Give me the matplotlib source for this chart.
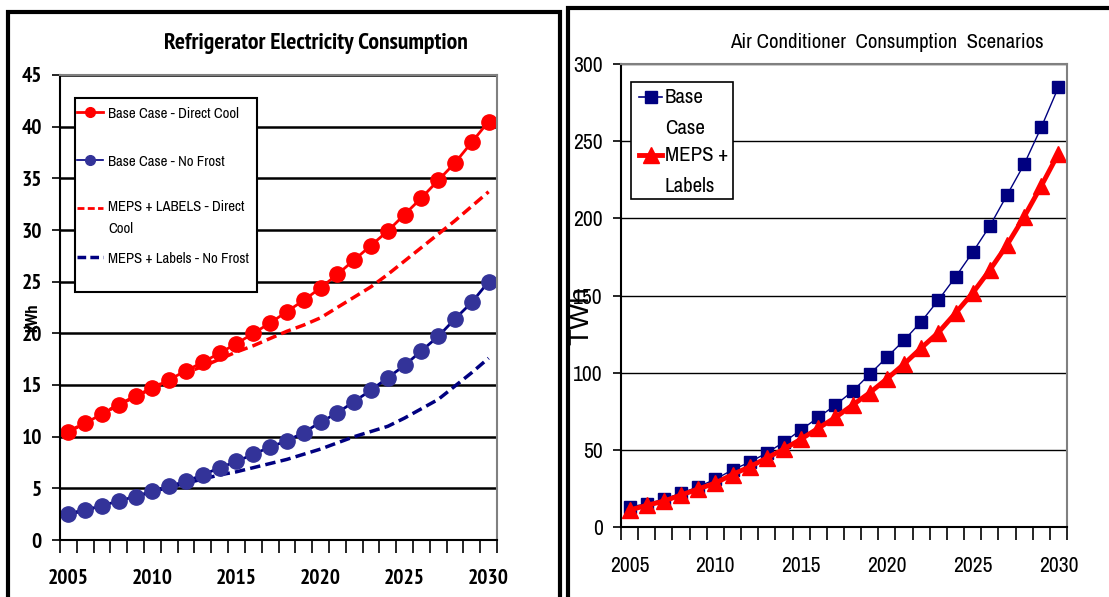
import numpy as np
import matplotlib.pyplot as plt
from matplotlib import font_manager
from matplotlib.lines import Line2D
from matplotlib.patches import Rectangle

years = list(range(2005, 2031))

# Refrigerator (kWh)
base_direct_cool = [10.5, 11.3, 12.2, 13.1, 13.9, 14.7, 15.5, 16.4, 17.2, 18.1,
                    19.0, 20.0, 21.0, 22.1, 23.2, 24.4, 25.7, 27.1, 28.5, 29.9,
                    31.5, 33.1, 34.8, 36.5, 38.5, 40.5]
base_no_frost = [2.5, 2.9, 3.3, 3.8, 4.2, 4.7, 5.2, 5.7, 6.3, 7.0,
                 7.6, 8.3, 9.0, 9.6, 10.4, 11.4, 12.3, 13.4, 14.5, 15.7,
                 16.9, 18.3, 19.7, 21.4, 23.0, 25.0]
meps_direct_cool = [10.5, 11.3, 12.2, 13.1, 13.9, 14.7, 15.5, 16.2, 16.8, 17.5,
                    18.2, 18.8, 19.5, 20.2, 20.8, 21.5, 22.5, 23.5, 24.5, 25.7,
                    27.0, 28.3, 29.6, 30.9, 32.3, 33.7]
meps_no_frost = [2.5, 2.9, 3.3, 3.8, 4.2, 4.7, 5.1, 5.5, 5.9, 6.3,
                 6.6, 7.0, 7.4, 7.8, 8.3, 8.8, 9.4, 10.0, 10.5, 11.0,
                 11.8, 12.7, 13.6, 14.9, 16.2, 17.6]
fridge_labels = ['Base Case - Direct Cool', 'Base Case - No Frost',
                 'MEPS + LABELS - Direct\nCool', 'MEPS + Labels - No Frost']

# Air conditioner (TWh)
ac_base = [13, 15, 18, 22, 26, 31, 37, 42, 48, 55,
           63, 71, 79, 88, 99, 110, 121, 133, 147, 162,
           178, 195, 215, 235, 259, 285]
ac_meps = [11, 14, 16.8, 20.7, 24.6, 28.5, 34, 39, 44.7, 50.5,
           57, 64, 71, 79, 87, 96, 105.6, 116, 126, 138.6,
           151.6, 166.5, 182.7, 201, 221, 242]
ac_labels = ['Base\nCase', 'MEPS +\nLabels']

W, H = 1109, 597


# find narrow fonts (regular and bold) if any are installed
def weight_num(w):
    if isinstance(w, str):
        return {'bold': 700, 'normal': 400, 'regular': 400, 'semibold': 600,
                'heavy': 800, 'black': 900, 'light': 300}.get(w.lower(), 400)
    return w


avail = {}
for f in font_manager.fontManager.ttflist:
    avail.setdefault(f.name, set()).add(weight_num(f.weight))

cands = ['Liberation Sans Narrow', 'Arial Narrow', 'Archivo Narrow',
         'PT Sans Narrow', 'Roboto Condensed', 'Barlow Condensed',
         'Encode Sans Condensed', 'Fira Sans Condensed',
         'IBM Plex Sans Condensed', 'Open Sans Condensed']
reg_font, k_reg = 'Liberation Sans', 0.82
bold_font, k_bold = 'Liberation Sans', 0.82
for c in cands:
    if c in avail and any(w < 600 for w in avail[c]):
        reg_font, k_reg = c, 1.0
        break
for c in cands:
    if c in avail and any(w >= 650 for w in avail[c]):
        bold_font, k_bold = c, 1.0
        break
plt.rcParams['font.family'] = [reg_font, 'DejaVu Sans']
BOLD = [bold_font, 'DejaVu Sans']
REG = [reg_font, 'DejaVu Sans']

fig = plt.figure(figsize=(W / 100, H / 100), dpi=100)


def fx(px):
    return px / W


def fy(py):
    return 1 - py / H


def px_rect(x0, y0, x1, y1):
    return [fx(x0), fy(y1), (x1 - x0) / W, (y1 - y0) / H]


# outer frames
for (x0, y0, x1) in [(8, 12, 560), (568, 8, 1112)]:
    fig.patches.append(Rectangle((fx(x0), -0.05), (x1 - x0) / W, 1.05 - y0 / H,
                                 transform=fig.transFigure, fill=False,
                                 edgecolor='black', linewidth=3))

x = np.arange(len(years))


def style_axes(ax, ymax, ystep, fam, weight, size, grid_lw):
    ax.set_xlim(-0.5, len(years) - 0.5)
    ax.set_ylim(0, ymax)
    ax.set_yticks(np.arange(0, ymax + 1, ystep))
    ax.set_xticks(x[::5])
    ax.set_xticklabels([str(y) for y in years[::5]])
    ax.set_xticks(np.arange(-0.5, len(years), 1), minor=True)
    ax.tick_params(axis='x', which='major', length=0, pad=21)
    ax.tick_params(axis='x', which='minor', length=9, width=1.2, direction='out')
    ax.tick_params(axis='y', length=6, width=1.2, pad=7)
    for lab in ax.get_xticklabels() + ax.get_yticklabels():
        lab.set_fontsize(size)
        lab.set_family(fam)
        lab.set_fontweight(weight)
    ax.grid(axis='y', color='black', linewidth=grid_lw)
    ax.set_axisbelow(True)
    for side in ['top', 'right']:
        ax.spines[side].set_color('#808080')
    for side in ax.spines:
        ax.spines[side].set_linewidth(1.5)


def legend_row(y, text, size, line_kw, marker_kw=None):
    fig.add_artist(Line2D([fx(77), fx(103)], [fy(y), fy(y)], **line_kw))
    if marker_kw:
        fig.add_artist(Line2D([fx(90)], [fy(y)], linestyle='none', **marker_kw))
    fig.text(fx(108), fy(y), text, ha='left', va='center_baseline',
             fontsize=size, family=REG)


# ---- Refrigerator ----
ax1 = fig.add_axes(px_rect(60, 75, 497, 540))
style_axes(ax1, 45, 5, BOLD, 'bold', 15.5 * k_bold, 1.8)
ax1.plot(x, meps_direct_cool, color='#FF0000', linestyle=(0, (3, 1.5)), linewidth=2.5)
ax1.plot(x, meps_no_frost, color='#000080', linestyle=(0, (3, 1.5)), linewidth=2.5)
ax1.plot(x, base_direct_cool, color='#FF0000', linewidth=2, marker='o',
         markersize=11, markerfacecolor='#FF0000', markeredgecolor='#FF0000')
ax1.plot(x, base_no_frost, color='#000080', linewidth=2, marker='o',
         markersize=11, markerfacecolor='#333399', markeredgecolor='#333399')
fig.text(fx(316), fy(44), 'Refrigerator Electricity Consumption',
         ha='center', va='center', fontsize=17 * k_bold, fontweight='bold',
         family=BOLD)
fig.text(fx(33), fy(318), 'kWh', rotation=90, ha='center', va='center',
         fontsize=13 * k_bold, fontweight='bold', family=BOLD)

# legend box, drawn by hand so rows sit where the reference has them
ax1.add_patch(Rectangle((0.0343, 0.533), 0.4165, 0.4175, transform=ax1.transAxes,
                        facecolor='white', edgecolor='black', linewidth=1.5,
                        zorder=4))
fs1 = 10.6 * k_reg
legend_row(112, fridge_labels[0], fs1, dict(color='#FF0000', lw=2),
           dict(marker='o', markersize=7, color='#FF0000'))
legend_row(160, fridge_labels[1], fs1, dict(color='#000080', lw=1.2),
           dict(marker='o', markersize=7, color='#333399'))
fig.add_artist(Line2D([fx(77), fx(103)], [fy(208), fy(208)], color='#FF0000',
                      lw=2, linestyle=(0, (2.5, 1.2))))
fig.text(fx(108), fy(200), fridge_labels[2], ha='left', va='top', fontsize=fs1,
         family=REG, linespacing=1.75)
legend_row(257, fridge_labels[3], fs1,
           dict(color='#000080', lw=2.5, linestyle=(0, (2.5, 1.2))))

# ---- Air conditioner ----
ax2 = fig.add_axes(px_rect(621, 64, 1067, 527))
style_axes(ax2, 300, 50, REG, 'normal', 15.5 * k_reg, 1.0)
ax2.plot(x, ac_base, color='#000080', linewidth=1, marker='s',
         markersize=9, markerfacecolor='#000080', markeredgecolor='#000080')
ax2.plot(x, ac_meps, color='#FF0000', linewidth=3.5, marker='^',
         markersize=11, markerfacecolor='#FF0000', markeredgecolor='#FF0000')
fig.text(fx(887), fy(43), 'Air Conditioner  Consumption  Scenarios',
         ha='center', va='center', fontsize=15 * k_reg, family=REG)
fig.text(fx(581), fy(316), 'TWh', rotation=90, ha='center', va='center',
         fontsize=20, family=['Liberation Sans', 'DejaVu Sans'])

ax2.add_patch(Rectangle((0.0224, 0.708), 0.2286, 0.253, transform=ax2.transAxes,
                        facecolor='white', edgecolor='black', linewidth=1.2,
                        zorder=4))
fs2 = 15 * k_reg
for yy, lab, lkw, mkw in [
        (97, ac_labels[0], dict(color='#000080', lw=1.2),
         dict(marker='s', markersize=9, color='#000080')),
        (155, ac_labels[1], dict(color='#FF0000', lw=3.5),
         dict(marker='^', markersize=11, color='#FF0000'))]:
    fig.add_artist(Line2D([fx(639), fx(662)], [fy(yy), fy(yy)], **lkw))
    fig.add_artist(Line2D([fx(651)], [fy(yy)], linestyle='none', **mkw))
    fig.text(fx(665), fy(yy - 9), lab, ha='left', va='top', fontsize=fs2,
             family=REG, linespacing=1.78)

fig.savefig('out.png', dpi=100)
